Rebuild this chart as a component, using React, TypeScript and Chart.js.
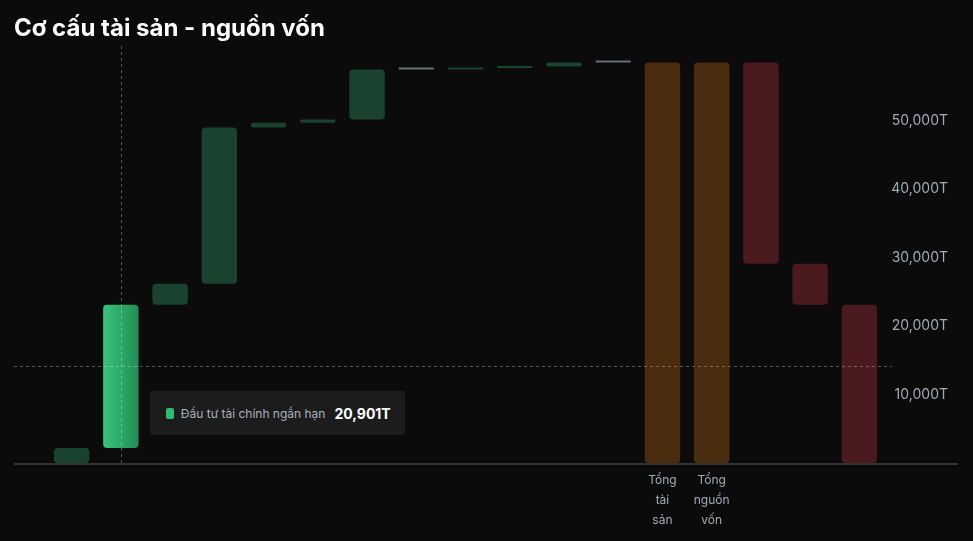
import React, { useEffect, useRef, useState } from "react";
import { Chart, registerables } from "chart.js";

Chart.register(...registerables);

const TITLE = "Cơ cấu tài sản - nguồn vốn";

const categories = [
  "Tiền và tương đương tiền",
  "Đầu tư tài chính ngắn hạn",
  "Các khoản phải thu ngắn hạn",
  "Hàng tồn kho",
  "Tài sản ngắn hạn khác",
  "Phải thu dài hạn",
  "Tài sản cố định",
  "Bất động sản đầu tư",
  "Tài sản dở dang dài hạn",
  "Đầu tư tài chính dài hạn",
  "Tài sản dài hạn khác",
  "Lợi thế thương mại",
  "Tổng tài sản",
  "Tổng nguồn vốn",
  "Nợ ngắn hạn",
  "Nợ dài hạn",
  "Vốn chủ sở hữu",
];

const tickLabels: (string | string[])[] = [
  "", "", "", "", "", "", "", "", "", "", "", "",
  ["Tổng", "tài", "sản"],
  ["Tổng", "nguồn", "vốn"],
  "", "", "",
];

// asset components (tỷ đồng, "T")
const assetValues = [2190, 20901, 3070, 22820, 680, 500, 7290, 0, 210, 220, 590, 0];
// capital components
const capitalValues = [29400, 5980, 23091];

const yTicks = [0, 10000, 20000, 30000, 40000, 50000, 60000];

const hoverIndex = 1;
const hoverValue = 14150;

const COLORS = {
  asset: "#19432e",
  zero: "#6b6f75",
  total: "#4a2d0e",
  capital: "#4a1a1e",
  hoverFrom: "#36c47d",
  hoverTo: "#228d55",
};

function buildRanges() {
  const ranges: [number, number][] = [];
  const kinds: string[] = [];
  let acc = 0;
  assetValues.forEach((v) => {
    ranges.push([acc, acc + v]);
    kinds.push(v === 0 ? "zero" : "asset");
    acc += v;
  });
  const total = acc;
  ranges.push([0, total]);
  kinds.push("total");
  ranges.push([0, capitalValues.reduce((a, b) => a + b, 0)]);
  kinds.push("total");
  let top = capitalValues.reduce((a, b) => a + b, 0);
  capitalValues.forEach((v) => {
    ranges.push([top - v, top]);
    kinds.push("capital");
    top -= v;
  });
  return { ranges, kinds };
}

function fmt(v: number) {
  return v.toLocaleString("en-US") + "T";
}

export default function App() {
  const canvasRef = useRef<HTMLCanvasElement | null>(null);
  const [tip, setTip] = useState<{ x: number; y: number } | null>(null);

  useEffect(() => {
    const canvas = canvasRef.current;
    if (!canvas) return;
    const { ranges, kinds } = buildRanges();

    const decor = {
      id: "decor",
      afterDatasetsDraw(chart: any) {
        const ctx = chart.ctx;
        const ys = chart.scales.y;
        const xs = chart.scales.x;
        const area = chart.chartArea;
        const baseY = ys.getPixelForValue(0);
        ctx.save();
        // baseline
        ctx.strokeStyle = "#333333";
        ctx.lineWidth = 2;
        ctx.beginPath();
        ctx.moveTo(14, baseY + 1);
        ctx.lineTo(958, baseY + 1);
        ctx.stroke();
        // crosshair
        const cx = Math.round(xs.getPixelForValue(hoverIndex)) + 0.5;
        const cy = Math.round(ys.getPixelForValue(hoverValue)) + 0.5;
        ctx.strokeStyle = "rgba(255,255,255,0.3)";
        ctx.lineWidth = 1;
        ctx.setLineDash([3, 3]);
        ctx.beginPath();
        ctx.moveTo(cx, area.top - 6);
        ctx.lineTo(cx, baseY);
        ctx.moveTo(14, cy);
        ctx.lineTo(area.right + 8, cy);
        ctx.stroke();
        ctx.restore();
      },
    };

    const chart = new Chart(canvas, {
      type: "bar",
      data: {
        labels: categories,
        datasets: [
          {
            data: ranges as any,
            minBarLength: 2,
            borderRadius: 4,
            borderSkipped: false,
            backgroundColor: (c: any) => {
              const i = c.dataIndex;
              const kind = kinds[i];
              if (i === hoverIndex) {
                const xs = c.chart.scales?.x;
                if (xs && xs.width) {
                  const center = xs.getPixelForValue(i);
                  const w = (xs.width / categories.length) * 0.72;
                  const g = c.chart.ctx.createLinearGradient(center - w / 2, 0, center + w / 2, 0);
                  g.addColorStop(0, COLORS.hoverFrom);
                  g.addColorStop(1, COLORS.hoverTo);
                  return g;
                }
                return COLORS.hoverFrom;
              }
              return (COLORS as any)[kind];
            },
          },
        ],
      },
      options: {
        responsive: false,
        animation: false,
        devicePixelRatio: 1,
        events: [],
        layout: { padding: { left: 47, right: 25, top: 52, bottom: 0 } },
        plugins: {
          legend: { display: false },
          tooltip: { enabled: false },
        },
        scales: {
          x: {
            grid: { display: false, drawTicks: false },
            border: { display: false },
            ticks: {
              autoSkip: false,
              maxRotation: 0,
              padding: 7,
              color: "#a3abb7",
              font: { family: "Inter", size: 12, lineHeight: "20px" } as any,
              callback: (_v: any, i: number) => tickLabels[i] as any,
            },
            afterFit: (s: any) => {
              s.height = 78;
            },
          },
          y: {
            position: "right",
            min: 0,
            max: 60000,
            grid: { display: false, drawTicks: false },
            border: { display: false },
            afterBuildTicks: (s: any) => {
              s.ticks = yTicks.map((v) => ({ value: v }));
            },
            ticks: {
              padding: 8,
              crossAlign: "far",
              color: "#a3abb7",
              font: { family: "Inter", size: 14 },
              callback: (v: any) => (v === 0 || v === 60000 ? "" : fmt(Number(v))),
            },
            afterFit: (s: any) => {
              s.width = 64;
            },
          },
        },
      },
      plugins: [decor],
    });

    const xs = chart.scales.x;
    const ys = chart.scales.y;
    setTip({ x: xs.getPixelForValue(hoverIndex), y: ys.getPixelForValue(hoverValue) });

    return () => chart.destroy();
  }, []);

  return (
    <div
      style={{
        position: "absolute",
        left: 0,
        top: 0,
        width: 973,
        height: 541,
        background: "#0b0b0b",
        overflow: "hidden",
        fontFamily: "Inter, sans-serif",
      }}
    >
      <canvas ref={canvasRef} width={973} height={541} style={{ position: "absolute", left: 0, top: 0 }} />
      <div
        style={{
          position: "absolute",
          left: 14,
          top: 14,
          fontSize: 24,
          lineHeight: "28px",
          fontWeight: 700,
          color: "#ffffff",
          whiteSpace: "nowrap",
        }}
      >
        {TITLE}
      </div>
      {tip && (
        <div
          style={{
            position: "absolute",
            left: tip.x + 29,
            top: tip.y + 25,
            height: 44,
            padding: "0 14px 0 16px",
            background: "#1c1c1c",
            borderRadius: 2,
            display: "flex",
            alignItems: "center",
            whiteSpace: "nowrap",
          }}
        >
          <span
            style={{
              display: "inline-block",
              width: 8,
              height: 11,
              borderRadius: 2,
              background: "#2ebd6e",
              marginRight: 7,
            }}
          />
          <span style={{ fontSize: 12, color: "#a9b1bd", marginRight: 9 }}>{categories[hoverIndex]}</span>
          <span style={{ fontSize: 14, fontWeight: 700, color: "#ffffff" }}>{fmt(assetValues[hoverIndex])}</span>
        </div>
      )}
    </div>
  );
}
